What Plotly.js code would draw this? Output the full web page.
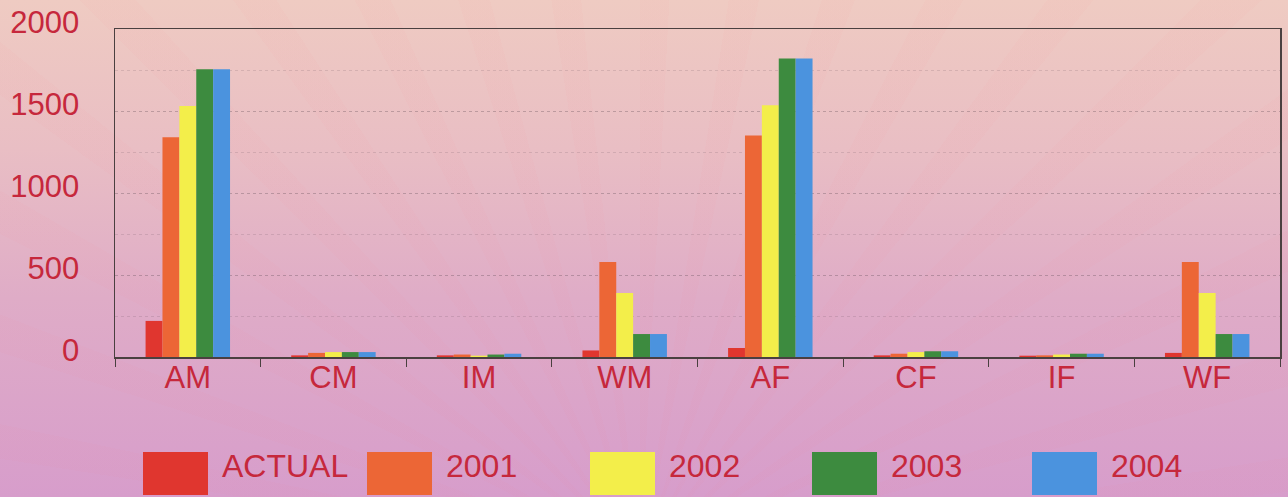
<!DOCTYPE html>
<html>
<head>
<meta charset="utf-8">
<script src="https://cdn.plot.ly/plotly-3.0.1.min.js"></script>
<style>
  html, body { margin: 0; padding: 0; }
  body {
    width: 1288px; height: 497px; overflow: hidden;
    background:
      repeating-conic-gradient(from 0deg at 640px 560px,
        rgba(255,120,130,0.035) 0deg 3deg, rgba(255,255,255,0) 3deg 9deg),
      linear-gradient(to bottom, #efcbc2 0%, #e9bec4 30%, #dfacc7 60%, #d79dcb 100%);
  }
  #chart { width: 1288px; height: 497px; }
</style>
</head>
<body>
<div id="chart"></div>
<script>
// Demand by category: actual figure and yearly projections
const categories = ['AM', 'CM', 'IM', 'WM', 'AF', 'CF', 'IF', 'WF'];
const seriesNames = ['ACTUAL', '2001', '2002', '2003', '2004'];
const actual = [220, 10, 10, 40, 55, 10, 8, 25];
const y2001  = [1340, 25, 15, 580, 1350, 20, 10, 580];
const y2002  = [1530, 30, 8, 390, 1535, 30, 15, 390];
const y2003  = [1755, 30, 15, 140, 1820, 35, 20, 140];
const y2004  = [1755, 30, 20, 140, 1820, 35, 20, 140];
const yTicks = [0, 500, 1000, 1500, 2000];

const seriesValues = [actual, y2001, y2002, y2003, y2004];
const colors = ['#e0362f', '#ec6636', '#f3ee4a', '#3d8b3f', '#4b93de'];
const textColor = '#c6283c';
const font = 'Liberation Sans, Arial, sans-serif';

const traces = seriesNames.map((name, i) => ({
  type: 'bar',
  name: name,
  x: categories,
  y: seriesValues[i],
  marker: { color: colors[i], line: { width: 0 } },
  showlegend: false,
  hoverinfo: 'x+y+name'
}));

// Plot area geometry (pixels) used to place the legend in paper units
const M = { l: 115, r: 8, t: 29, b: 140 };
const W = 1288, H = 497;
const pw = W - M.l - M.r, ph = H - M.t - M.b;
const px = x => (x - M.l) / pw;
const py = y => 1 - (y - M.t) / ph;

const legendBoxes = [143, 367, 590, 812, 1032];
const shapes = [];
const annotations = [];
seriesNames.forEach((name, i) => {
  const x0 = legendBoxes[i];
  shapes.push({
    type: 'rect', xref: 'paper', yref: 'paper',
    x0: px(x0), x1: px(x0 + 65), y0: py(495), y1: py(452),
    fillcolor: colors[i], line: { width: 0 }
  });
  annotations.push({
    xref: 'paper', yref: 'paper',
    x: px(x0 + 77), y: py(466),
    xanchor: 'left', yanchor: 'middle',
    text: name, showarrow: false,
    font: { family: font, size: 32, color: textColor }
  });
});

const layout = {
  width: W, height: H,
  margin: M,
  paper_bgcolor: 'rgba(0,0,0,0)',
  plot_bgcolor: 'rgba(0,0,0,0)',
  barmode: 'group',
  bargap: 0.42,
  bargroupgap: 0,
  showlegend: false,
  font: { family: font, color: textColor },
  xaxis: {
    type: 'category',
    showline: true, mirror: true, linecolor: '#4a4040', linewidth: 1.5,
    ticks: 'outside', tickson: 'boundaries', ticklen: 8, tickcolor: '#4a4040',
    ticklabelstandoff: -8,
    tickfont: { family: font, size: 31, color: textColor },
    showgrid: false, zeroline: false
  },
  yaxis: {
    range: [0, 2000],
    tickvals: yTicks,
    ticktext: yTicks.map(String),
    showline: true, mirror: true, linecolor: '#4a4040', linewidth: 1.5,
    ticks: '', ticklabelstandoff: 28, ticklabelshift: -7,
    tickfont: { family: font, size: 31, color: textColor },
    showgrid: true, gridcolor: 'rgba(90,70,80,0.18)', griddash: 'dot', gridwidth: 1,
    minor: { dtick: 250, showgrid: true, gridcolor: 'rgba(90,70,80,0.16)', griddash: 'dot', gridwidth: 1 },
    zeroline: false
  },
  shapes: shapes,
  annotations: annotations
};

Plotly.newPlot('chart', traces, layout, { displayModeBar: false, staticPlot: true });
</script>
</body>
</html>
